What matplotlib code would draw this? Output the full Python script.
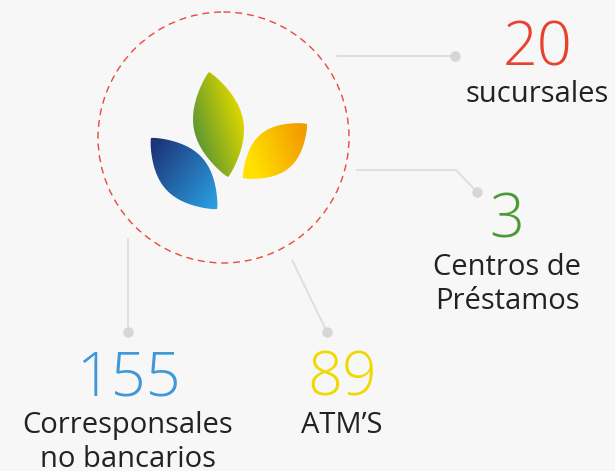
import numpy as np
import matplotlib.pyplot as plt
from matplotlib.patches import Circle, Polygon

# Datos del gráfico
valores = ["20", "3", "155", "89"]
etiquetas = [["sucursales"], ["Centros de", "Préstamos"],
             ["Corresponsales", "no bancarios"], ["ATM’S"]]
colores = ["#e8422f", "#4b9a36", "#3f98d8", "#f0d900"]

# Posiciones (centro x, línea base del número, línea base de la etiqueta) en píxeles
pos_x = [537, 507, 128, 342]
base_num = [65, 238, 395, 395]
base_etq = [102, 275, 433, 433]
interlinea = 34

# Líneas conectoras (puntos x, y) y su punto final
conectores = [
    ([337, 455], [56, 56]),
    ([357, 456, 477], [170, 170, 192]),
    ([128, 128], [239, 332]),
    ([292, 327], [260, 332]),
]

# Hojas del logo: extremo 1, extremo 2, ancho, color inicial, color final, eje del degradado
hojas = [
    ((151, 138), (217, 209), 24, "#1d3577", "#2a9ee0", (150, 150), (218, 200)),
    ((209, 72), (228, 177), 25, "#5b9632", "#d8d400", (195, 140), (243, 125)),
    ((243, 178), (307, 124), 22, "#ffe100", "#f39c00", (250, 160), (305, 140)),
]

fondo = "#f7f7f7"
gris = "#dddddd"

fig = plt.figure(figsize=(6.15, 4.71), dpi=100, facecolor=fondo)
ax = fig.add_axes([0, 0, 1, 1])
ax.set_facecolor(fondo)


def hex_rgb(h):
    h = h.lstrip("#")
    return np.array([int(h[i:i + 2], 16) / 255 for i in (0, 2, 4)])


def forma_hoja(p0, p1, w, n=60):
    p0 = np.array(p0, float)
    p1 = np.array(p1, float)
    d = p1 - p0
    nrm = np.array([-d[1], d[0]]) / np.hypot(*d)
    t = np.linspace(0, 1, n)
    base = p0 + np.outer(t, d)
    prof = np.sin(np.pi * t) ** 0.85
    lado1 = base + np.outer(w * prof, nrm)
    lado2 = base - np.outer(w * prof, nrm)
    return np.vstack([lado1, lado2[::-1]])


# Circulo punteado
circ = Circle((223.5, 137.5), 125.5, fill=False, edgecolor="#e84a3c",
              linewidth=1.0, linestyle=(0, (5, 3.5)))
ax.add_patch(circ)

# Hojas con degradado
for p0, p1, w, c0, c1, g0, g1 in hojas:
    pts = forma_hoja(p0, p1, w)
    poly = Polygon(pts, closed=True, facecolor="none", edgecolor="none")
    ax.add_patch(poly)
    x0, y0 = pts.min(axis=0) - 2
    x1, y1 = pts.max(axis=0) + 2
    xs = np.linspace(x0, x1, 200)
    ys = np.linspace(y0, y1, 200)
    X, Y = np.meshgrid(xs, ys)
    g0 = np.array(g0, float)
    g1 = np.array(g1, float)
    dg = g1 - g0
    t = ((X - g0[0]) * dg[0] + (Y - g0[1]) * dg[1]) / (dg @ dg)
    t = np.clip(t, 0, 1)[..., None]
    img = hex_rgb(c0) * (1 - t) + hex_rgb(c1) * t
    im = ax.imshow(img, extent=(x0, x1, y0, y1), origin="lower",
                   interpolation="bilinear", zorder=2)
    im.set_clip_path(poly)

# Conectores
for xs, ys in conectores:
    ax.plot(xs, ys, color=gris, linewidth=1.3, solid_capstyle="round", zorder=1)
    ax.plot(xs[-1], ys[-1], "o", color="#d6d6d6", markersize=6.5, zorder=1)

# Textos
for v, lineas, c, x, yn, ye in zip(valores, etiquetas, colores, pos_x, base_num, base_etq):
    ax.text(x, yn, v, color=c, fontsize=44, family="Open Sans", fontweight="light",
            ha="center", va="baseline")
    for i, linea in enumerate(lineas):
        ax.text(x, ye + i * interlinea, linea, color="#222222", fontsize=21,
                family="Open Sans", ha="center", va="baseline")

ax.set_xlim(0, 615)
ax.set_ylim(471, 0)
ax.set_aspect("auto")
ax.axis("off")

fig.savefig("out.png", dpi=100, facecolor=fondo)
